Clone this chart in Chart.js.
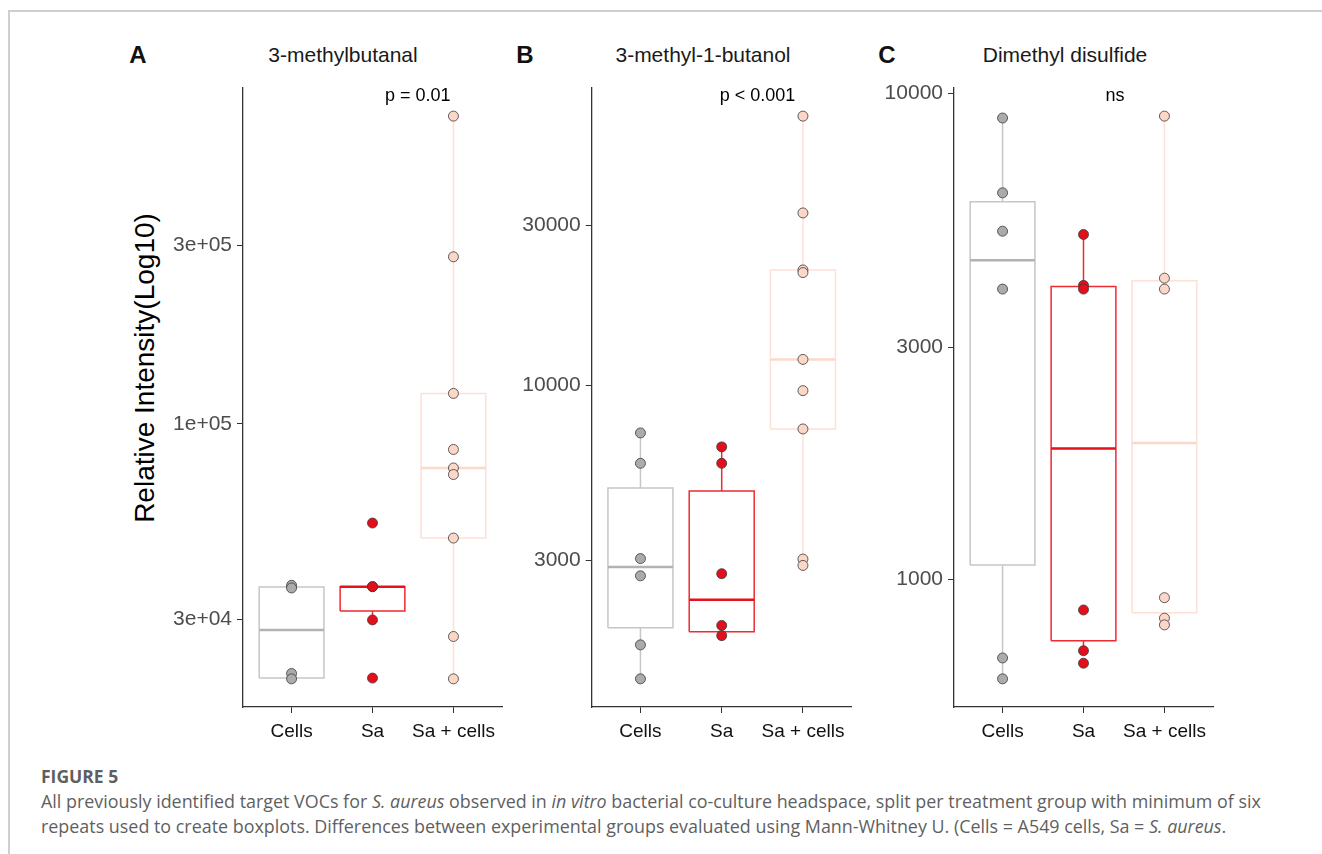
<!DOCTYPE html>
<html>
<head>
<meta charset="utf-8">
<script src="https://cdn.jsdelivr.net/npm/chart.js@4.4.0/dist/chart.umd.min.js"></script>
<style>
  body { margin: 0; background: #fff; width: 1322px; height: 854px; position: relative; overflow: hidden; font-family: "Liberation Sans", Arial, sans-serif; }
  .frame { position: absolute; left: 8px; top: 10px; right: 0; bottom: 0; border-top: 2px solid #cfcfcf; border-left: 2px solid #cfcfcf; }
  canvas { position: absolute; }
  .lbl { position: absolute; transform: translate(-50%, -50%); white-space: nowrap; color: #111; }
  .letter { font-weight: bold; font-size: 24px; }
  .title { font-size: 21px; color: #1a1a1a; }
  .ytitle { position: absolute; left: 145px; top: 368px; transform: translate(-50%, -50%) rotate(-90deg); font-size: 28px; white-space: nowrap; color: #000; }
  .cap { position: absolute; left: 41px; transform: translateY(-50%); white-space: nowrap; font-family: "Open Sans", Lato, sans-serif; color: #5f5f5f; font-size: 17.9px; }
  .cap.fig { font-weight: bold; font-size: 17.5px; }
</style>
</head>
<body>
<div class="frame"></div>

<div class="lbl letter" style="left:138px; top:55px;">A</div>
<div class="lbl letter" style="left:525px; top:55px;">B</div>
<div class="lbl letter" style="left:887px; top:55px;">C</div>
<div class="lbl title" style="left:343px; top:55px;">3-methylbutanal</div>
<div class="lbl title" style="left:703px; top:55px;">3-methyl-1-butanol</div>
<div class="lbl title" style="left:1065px; top:55px;">Dimethyl disulfide</div>
<div class="ytitle">Relative Intensity(Log10)</div>

<canvas id="chartA" width="410" height="700" style="left:100px; top:60px;"></canvas>
<canvas id="chartB" width="350" height="700" style="left:510px; top:60px;"></canvas>
<canvas id="chartC" width="352" height="700" style="left:870px; top:60px;"></canvas>

<div class="cap fig" style="top:776px;">FIGURE 5</div>
<div class="cap" style="top:801px;">All previously identified target VOCs for <i>S. aureus</i> observed in <i>in vitro</i> bacterial co-culture headspace, split per treatment group with minimum of six</div>
<div class="cap" style="top:826px;">repeats used to create boxplots. Differences between experimental groups evaluated using Mann-Whitney U. (Cells = A549 cells, Sa = <i>S. aureus</i>.</div>

<script>
const groups = ['Cells', 'Sa', 'Sa + cells'];

// A: 3-methylbutanal
const butanalCells = [37000, 36400, 21500, 20800];
const butanalSa = [54300, 36700, 36700, 29900, 20900];
const butanalSaCells = [665000, 279700, 120600, 85400, 76200, 73200, 49500, 27000, 20800];
const butanalLow = [20800, 29900, 20800];
const butanalQ1 = [20900, 31600, 49500];
const butanalMedian = [28100, 36700, 76200];
const butanalQ3 = [36600, 36700, 120600];
const butanalHigh = [37000, 36700, 665000];
const butanalTicks = [30000, 100000, 300000];
const butanalTickLabels = ['3e+04', '1e+05', '3e+05'];

// B: 3-methyl-1-butanol
const butanolCells = [7210, 5850, 3040, 2700, 1680, 1330];
const butanolSa = [6550, 5850, 2740, 1920, 1790];
const butanolSaCells = [63600, 32700, 22100, 21700, 11950, 9640, 7410, 3030, 2900];
const butanolLow = [1330, 1790, 2900];
const butanolQ1 = [1890, 1840, 7410];
const butanolMedian = [2870, 2290, 11950];
const butanolQ3 = [4940, 4840, 22100];
const butanolHigh = [7210, 6550, 63600];
const butanolTicks = [3000, 10000, 30000];
const butanolTickLabels = ['3000', '10000', '30000'];

// C: Dimethyl disulfide
const disulfideCells = [8910, 6250, 5210, 3960, 689, 624];
const disulfideSa = [5130, 4030, 3960, 865, 713, 672];
const disulfideSaCells = [8990, 4170, 3960, 917, 832, 806];
const disulfideLow = [624, 713, 806];
const disulfideQ1 = [1070, 748, 854];
const disulfideMedian = [4540, 1860, 1910];
const disulfideQ3 = [5990, 4010, 4120];
const disulfideHigh = [8910, 5130, 8990];
const disulfideTicks = [1000, 3000, 10000];
const disulfideTickLabels = ['1000', '3000', '10000'];

const pLabels = ['p = 0.01', 'p < 0.001', 'ns'];
const pLabelX = [2.56, 2.44, 2.39];

const fills = ['#ababab', '#e3101b', '#fcd6c6'];
const boxLines = ['#c6c6c6', '#ee2b30', '#fde0d6'];
const medianLines = ['#b2b2b2', '#e5111b', '#fcd8cb'];
const halfWidth = 0.4;

function buildDatasets(points, low, q1, med, q3, high) {
    const ds = [];
    groups.forEach(function (g, i) {
        const x = i + 1;
        // points on top of the box
        ds.push({
            data: points[i].map(v => ({ x: x, y: v })),
            backgroundColor: fills[i],
            borderColor: '#3a3a3a',
            borderWidth: 0.8,
            pointRadius: 5,
            order: 0
        });
        // box
        ds.push({
            data: [{ x: x - halfWidth, y: q1[i] }, { x: x + halfWidth, y: q1[i] }, { x: x + halfWidth, y: q3[i] },
                   { x: x - halfWidth, y: q3[i] }, { x: x - halfWidth, y: q1[i] }],
            showLine: true, borderColor: boxLines[i], borderWidth: 1.5, pointRadius: 0, borderJoinStyle: 'miter', order: 2
        });
        // median
        ds.push({
            data: [{ x: x - halfWidth, y: med[i] }, { x: x + halfWidth, y: med[i] }],
            showLine: true, borderColor: medianLines[i], borderWidth: 2.5, pointRadius: 0, order: 1
        });
        // whiskers
        ds.push({
            data: [{ x: x, y: low[i] }, { x: x, y: q1[i] }],
            showLine: true, borderColor: boxLines[i], borderWidth: 1.5, pointRadius: 0, order: 2
        });
        ds.push({
            data: [{ x: x, y: q3[i] }, { x: x, y: high[i] }],
            showLine: true, borderColor: boxLines[i], borderWidth: 1.5, pointRadius: 0, order: 2
        });
    });
    return ds;
}

function makePanel(id, points, low, q1, med, q3, high, ticks, tickLabels, yWidth, rightPad, pIndex) {
    const all = [].concat(...points);
    const lo = Math.log10(Math.min(...all));
    const hi = Math.log10(Math.max(...all));
    const span = hi - lo;

    const pLabelPlugin = {
        id: 'pLabel',
        afterDatasetsDraw(chart) {
            const ctx = chart.ctx;
            ctx.save();
            ctx.font = '18px "Liberation Sans", Arial, sans-serif';
            ctx.fillStyle = '#000';
            ctx.textAlign = 'center';
            ctx.textBaseline = 'middle';
            ctx.fillText(pLabels[pIndex], chart.scales.x.getPixelForValue(pLabelX[pIndex]), chart.chartArea.top + 8);
            ctx.restore();
        }
    };

    return new Chart(document.getElementById(id).getContext('2d'), {
        type: 'scatter',
        data: { datasets: buildDatasets(points, low, q1, med, q3, high) },
        plugins: [pLabelPlugin],
        options: {
            responsive: false,
            animation: false,
            layout: { padding: { top: 28, right: rightPad, left: 0, bottom: 0 } },
            plugins: { legend: { display: false }, tooltip: { enabled: false } },
            scales: {
                x: {
                    type: 'linear',
                    min: 0.4,
                    max: 3.6,
                    afterBuildTicks: s => { s.ticks = [1, 2, 3].map(v => ({ value: v })); },
                    afterFit: s => { s.height = 53; },
                    ticks: {
                        callback: (v, i) => groups[i],
                        color: '#111',
                        font: { family: '"Liberation Sans", Arial, sans-serif', size: 19 },
                        padding: 7,
                        maxRotation: 0
                    },
                    grid: { drawOnChartArea: false, drawTicks: true, tickLength: 6, color: '#333' },
                    border: { color: '#333', width: 1.3 }
                },
                y: {
                    type: 'logarithmic',
                    min: Math.pow(10, lo - 0.05 * span),
                    max: Math.pow(10, hi + 0.05 * span),
                    bounds: 'data',
                    afterBuildTicks: s => { s.ticks = ticks.map(v => ({ value: v })); },
                    afterFit: s => { s.width = yWidth; },
                    ticks: {
                        callback: (v, i) => tickLabels[i],
                        color: '#4d4d4d',
                        font: { family: '"Liberation Sans", Arial, sans-serif', size: 21 },
                        padding: 5
                    },
                    grid: { drawOnChartArea: false, drawTicks: true, tickLength: 6, color: '#333' },
                    border: { color: '#333', width: 1.3 }
                }
            }
        }
    });
}

makePanel('chartA', [butanalCells, butanalSa, butanalSaCells], butanalLow, butanalQ1, butanalMedian, butanalQ3, butanalHigh,
    butanalTicks, butanalTickLabels, 143, 8, 0);
makePanel('chartB', [butanolCells, butanolSa, butanolSaCells], butanolLow, butanolQ1, butanolMedian, butanolQ3, butanolHigh,
    butanolTicks, butanolTickLabels, 81.7, 8.3, 1);
makePanel('chartC', [disulfideCells, disulfideSa, disulfideSaCells], disulfideLow, disulfideQ1, disulfideMedian, disulfideQ3, disulfideHigh,
    disulfideTicks, disulfideTickLabels, 84, 9, 2);
</script>
</body>
</html>
